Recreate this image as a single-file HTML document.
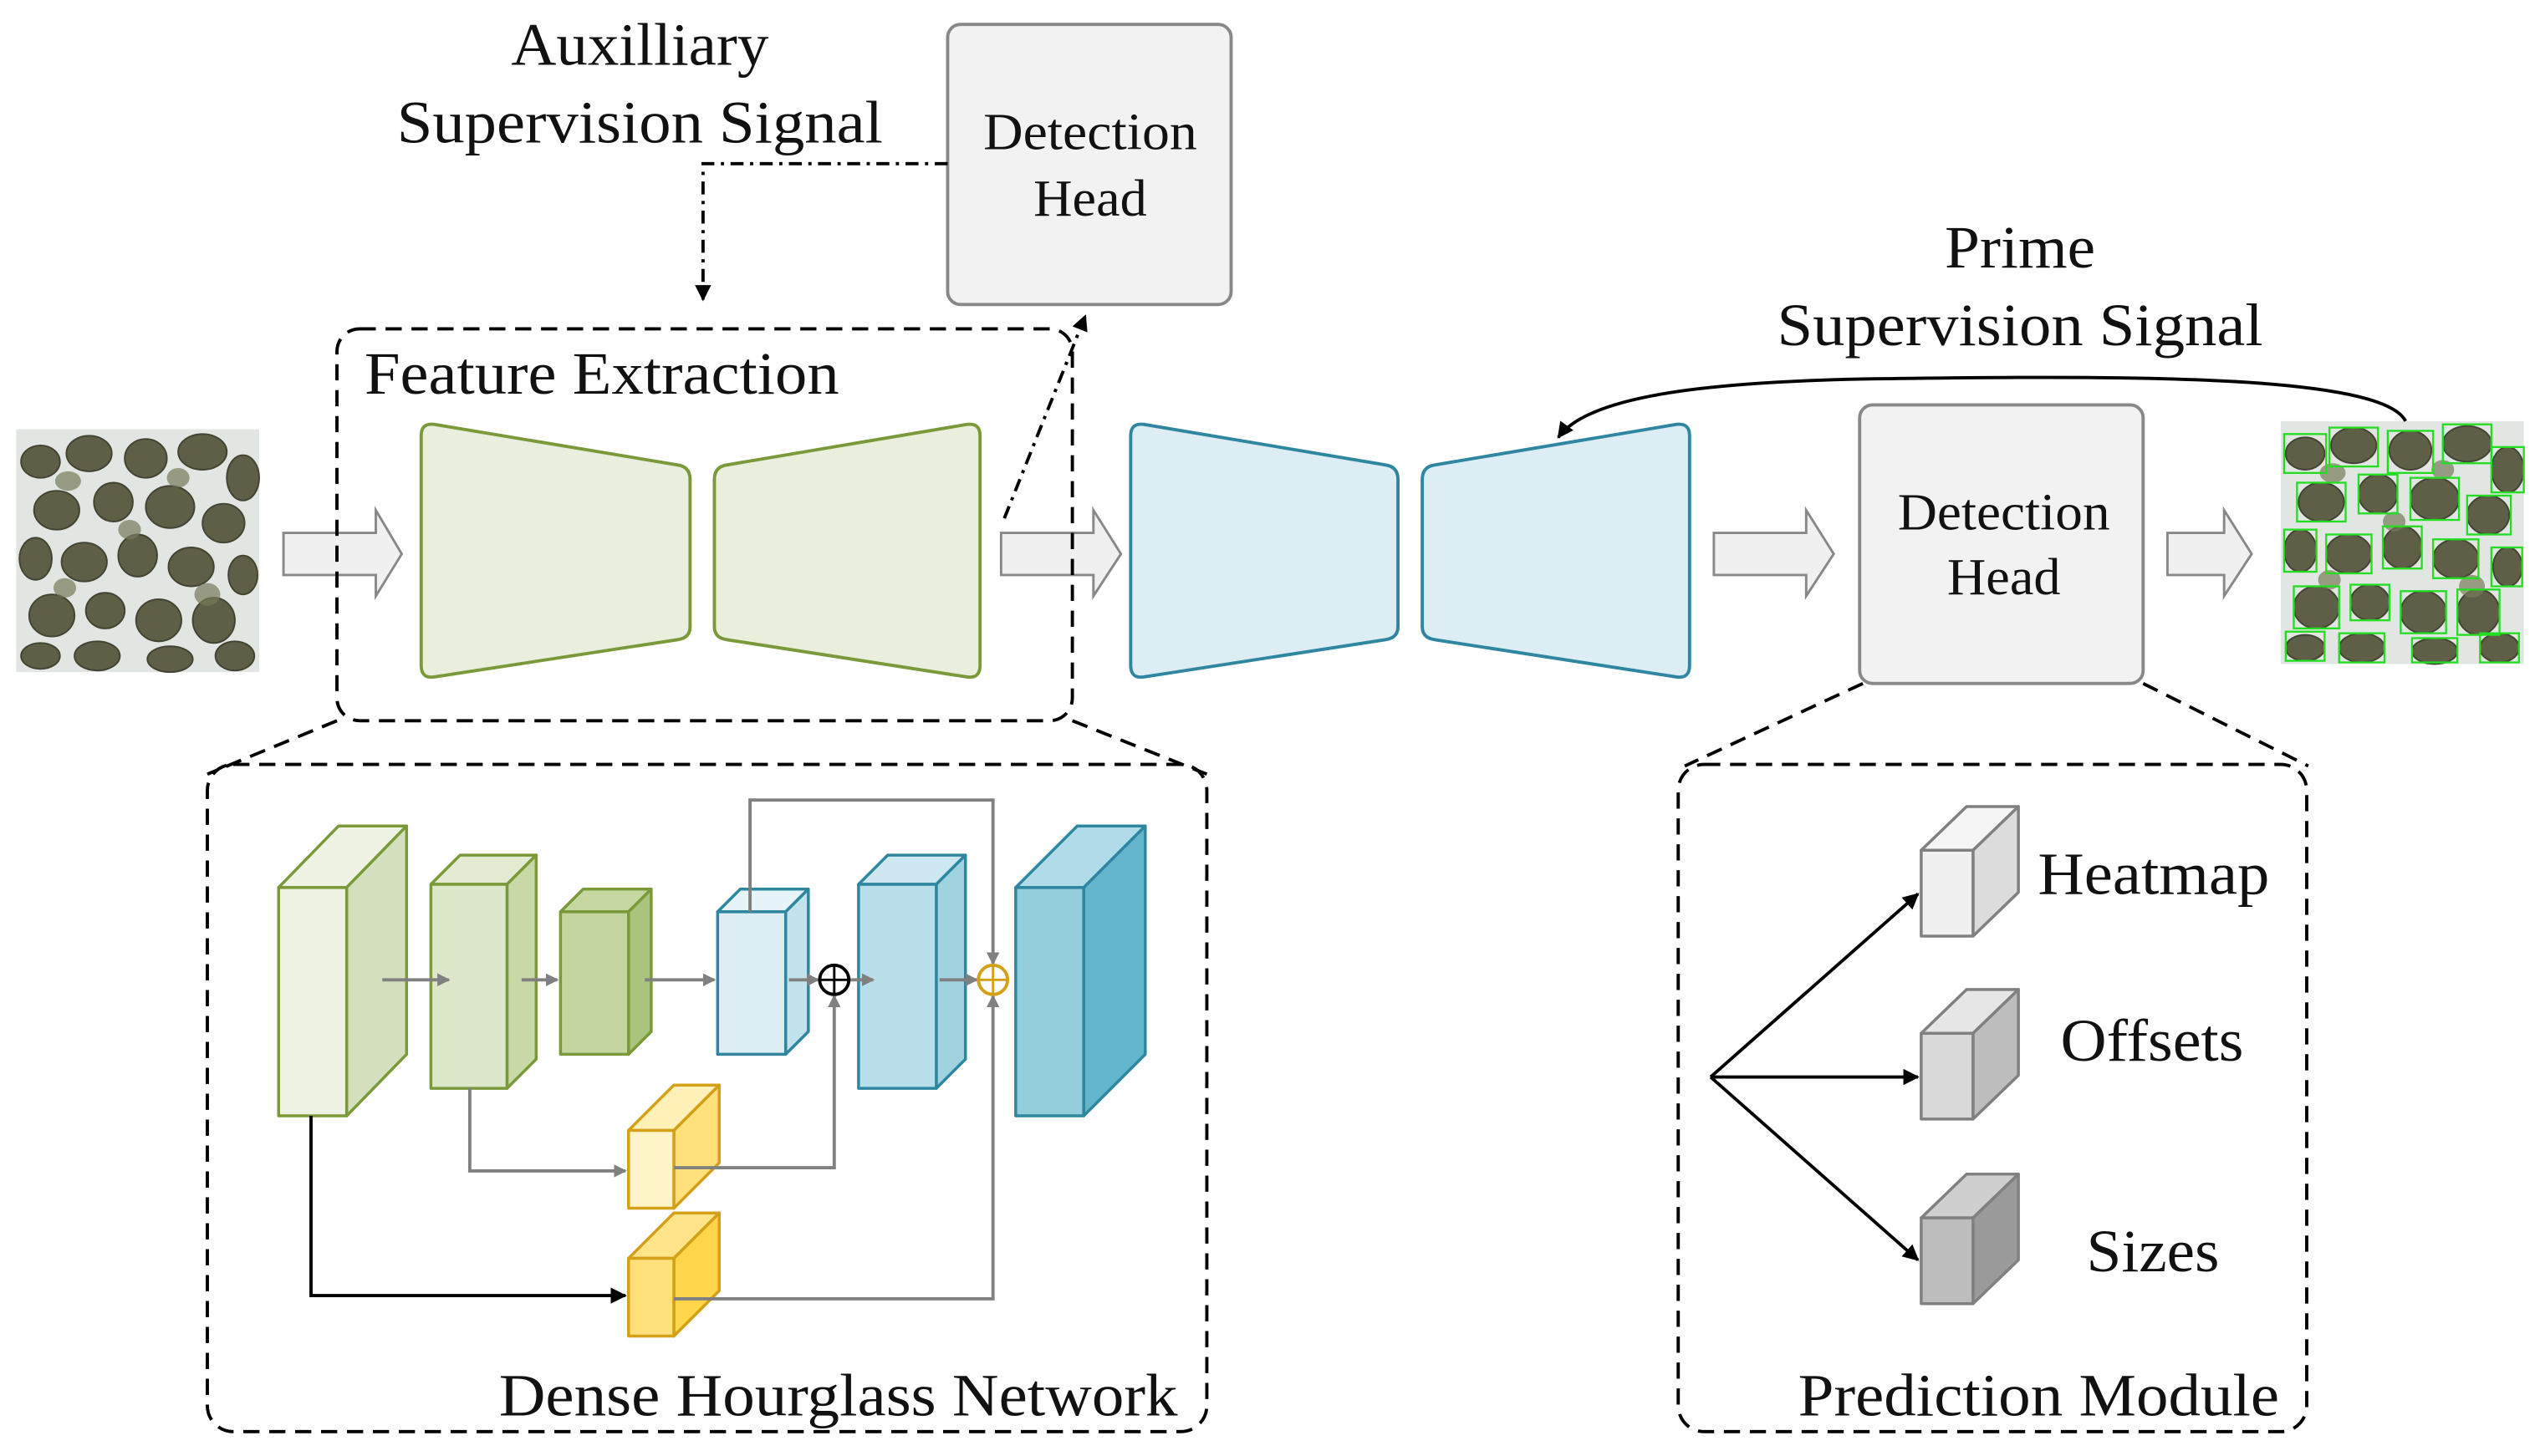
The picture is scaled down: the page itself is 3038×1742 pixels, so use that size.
<!DOCTYPE html>
<html><head><meta charset="utf-8"><style>
html,body{margin:0;padding:0;background:#fff;}
svg{display:block;}
text{font-family:"Liberation Serif",serif;fill:#111;}
</style></head><body>
<svg width="3038" height="1742" viewBox="0 0 1568 899" xmlns="http://www.w3.org/2000/svg">
<defs>
<marker id="ag" markerWidth="8" markerHeight="8" refX="7" refY="4" orient="auto" markerUnits="userSpaceOnUse"><path d="M0,0 L8,4 L0,8 z" fill="#808080"/></marker>
<marker id="ak" markerWidth="10" markerHeight="10" refX="9" refY="5" orient="auto" markerUnits="userSpaceOnUse"><path d="M0,0 L10,5 L0,10 z" fill="#000"/></marker>
<g id="rocks">
<rect x="0" y="0" width="150" height="150" fill="#e2e6e2"/>
<g fill="#5e5f46" stroke="#424332" stroke-width="1">
<ellipse cx="15" cy="20" rx="12" ry="10"/><ellipse cx="45" cy="15" rx="14" ry="11"/><ellipse cx="80" cy="18" rx="13" ry="12"/><ellipse cx="115" cy="14" rx="15" ry="11"/><ellipse cx="140" cy="30" rx="10" ry="14"/>
<ellipse cx="25" cy="50" rx="14" ry="12"/><ellipse cx="60" cy="45" rx="12" ry="12"/><ellipse cx="95" cy="48" rx="15" ry="13"/><ellipse cx="128" cy="58" rx="13" ry="12"/>
<ellipse cx="12" cy="80" rx="10" ry="13"/><ellipse cx="42" cy="82" rx="14" ry="12"/><ellipse cx="75" cy="78" rx="12" ry="13"/><ellipse cx="108" cy="85" rx="14" ry="12"/><ellipse cx="140" cy="90" rx="9" ry="12"/>
<ellipse cx="22" cy="115" rx="14" ry="13"/><ellipse cx="55" cy="112" rx="12" ry="11"/><ellipse cx="88" cy="118" rx="14" ry="13"/><ellipse cx="122" cy="118" rx="13" ry="14"/>
<ellipse cx="15" cy="140" rx="12" ry="8"/><ellipse cx="50" cy="140" rx="14" ry="9"/><ellipse cx="95" cy="142" rx="14" ry="8"/><ellipse cx="135" cy="140" rx="12" ry="9"/>
</g>
<g fill="#787a5a" opacity="0.7">
<ellipse cx="32" cy="32" rx="8" ry="6"/><ellipse cx="70" cy="62" rx="7" ry="6"/><ellipse cx="118" cy="102" rx="8" ry="7"/><ellipse cx="30" cy="98" rx="7" ry="6"/><ellipse cx="100" cy="30" rx="7" ry="6"/>
</g></g>
</defs>

<use href="#rocks" x="10" y="265"/>
<g transform="translate(1408,260)">
<use href="#rocks" x="0" y="0"/>
<g fill="none" stroke="#22dd22" stroke-width="1.2">
<rect x="2" y="8" width="26" height="24"/><rect x="30" y="4" width="30" height="24"/><rect x="66" y="6" width="28" height="26"/><rect x="100" y="2" width="30" height="24"/><rect x="130" y="16" width="20" height="28"/>
<rect x="10" y="38" width="30" height="24"/><rect x="48" y="33" width="24" height="24"/><rect x="80" y="35" width="30" height="26"/><rect x="115" y="46" width="27" height="24"/>
<rect x="2" y="67" width="20" height="26"/><rect x="28" y="70" width="28" height="24"/><rect x="63" y="65" width="24" height="26"/><rect x="94" y="73" width="28" height="24"/><rect x="130" y="78" width="19" height="24"/>
<rect x="8" y="102" width="28" height="26"/><rect x="43" y="101" width="24" height="22"/><rect x="74" y="105" width="28" height="26"/><rect x="109" y="104" width="26" height="28"/>
<rect x="3" y="130" width="24" height="18"/><rect x="36" y="131" width="28" height="18"/><rect x="81" y="134" width="28" height="15"/><rect x="123" y="131" width="24" height="18"/>
</g></g>

<g fill="#f0f0f0" stroke="#888" stroke-width="1.5">
<path d="M175,329 H232 V315 L248,342 L232,368 V355 H175 Z"/>
<path d="M618,329 H675 V315 L692,342 L675,368 V355 H618 Z"/>
<path d="M1058,329 H1115 V315 L1132,342 L1115,368 V355 H1058 Z"/>
<path d="M1338,329 H1373 V315 L1390,342 L1373,368 V355 H1338 Z"/>
</g>

<g stroke-width="2" stroke-linejoin="round">
<path d="M268,262 L418,287 Q426,288 426,296 L426,387 Q426,394 418,395 L268,418 Q260,419 260,411 L260,269 Q260,261 268,262 Z" fill="#e9efdc" stroke="#7a9a3a"/>
<path d="M449,287 L597,262 Q605,261 605,269 L605,411 Q605,419 597,418 L449,395 Q441,394 441,387 L441,296 Q441,288 449,287 Z" fill="#e9efdc" stroke="#7a9a3a"/>
<path d="M706,262 L855,287 Q863,288 863,296 L863,387 Q863,394 855,395 L706,418 Q698,419 698,411 L698,269 Q698,261 706,262 Z" fill="#dceef4" stroke="#2e86a0"/>
<path d="M886,287 L1035,262 Q1043,261 1043,269 L1043,411 Q1043,419 1035,418 L886,395 Q878,394 878,387 L878,296 Q878,288 886,287 Z" fill="#dceef4" stroke="#2e86a0"/>
</g>

<rect x="585" y="15" width="175" height="173" rx="8" fill="#f2f2f2" stroke="#888" stroke-width="2"/>
<text x="673" y="92" font-size="32" text-anchor="middle" textLength="132" lengthAdjust="spacingAndGlyphs">Detection</text>
<text x="673" y="133" font-size="32" text-anchor="middle" textLength="70" lengthAdjust="spacingAndGlyphs">Head</text>
<rect x="1148" y="250" width="175" height="172" rx="8" fill="#f2f2f2" stroke="#888" stroke-width="2"/>
<text x="1237" y="327" font-size="32" text-anchor="middle" textLength="131" lengthAdjust="spacingAndGlyphs">Detection</text>
<text x="1237" y="367" font-size="32" text-anchor="middle" textLength="70" lengthAdjust="spacingAndGlyphs">Head</text>

<text x="395" y="40" font-size="37" text-anchor="middle" textLength="159" lengthAdjust="spacingAndGlyphs">Auxilliary</text>
<text x="395" y="88" font-size="37" text-anchor="middle" textLength="300" lengthAdjust="spacingAndGlyphs">Supervision Signal</text>
<text x="1247" y="165" font-size="37" text-anchor="middle" textLength="93" lengthAdjust="spacingAndGlyphs">Prime</text>
<text x="1247" y="213" font-size="37" text-anchor="middle" textLength="300" lengthAdjust="spacingAndGlyphs">Supervision Signal</text>

<g fill="none" stroke="#000" stroke-width="2" stroke-dasharray="8,4,2,4">
<path d="M585,101 H434 V185" marker-end="url(#ak)"/>
<path d="M620,320 L670,195" marker-end="url(#ak)"/>
</g>
<path d="M1485,260 C1470,230 1300,232 1150,234 C1050,236 980,245 962,270" fill="none" stroke="#000" stroke-width="2" marker-end="url(#ak)"/>

<g fill="none" stroke="#000" stroke-width="2" stroke-dasharray="10,6">
<rect x="208" y="203" width="454" height="242" rx="14"/>
<path d="M208,445 L128,478 M662,445 L745,478"/>
<rect x="128" y="472" width="617" height="412" rx="16"/>
<path d="M1150,422 L1040,473 M1323,422 L1425,473"/>
<rect x="1036" y="472" width="388" height="412" rx="16"/>
</g>
<text x="225" y="243" font-size="37" textLength="293" lengthAdjust="spacingAndGlyphs">Feature Extraction</text>
<text x="308" y="874" font-size="37" textLength="419" lengthAdjust="spacingAndGlyphs">Dense Hourglass Network</text>
<text x="1110" y="874" font-size="37" textLength="297" lengthAdjust="spacingAndGlyphs">Prediction Module</text>

<g stroke-width="1.8" stroke-linejoin="round">
<g stroke="#7a9a3a">
<path d="M172,548 L209,510 L251,510 L214,548 Z" fill="#eef3e4"/><path d="M214,548 L251,510 L251,651 L214,689 Z" fill="#d4e0bd"/><rect x="172" y="548" width="42" height="141" fill="#eef3e4"/>
<path d="M266,546 L284,528 L331,528 L313,546 Z" fill="#e3ebd2"/><path d="M313,546 L331,528 L331,654 L313,672 Z" fill="#c8d9a8"/><rect x="266" y="546" width="47" height="126" fill="#dde8c8"/>
<path d="M346,563 L360,549 L402,549 L388,563 Z" fill="#c5d8a2"/><path d="M388,563 L402,549 L402,637 L388,651 Z" fill="#a9c47d"/><rect x="346" y="563" width="42" height="88" fill="#c3d6a0"/>
</g>
<g stroke="#2e86a0">
<path d="M443,563 L457,549 L499,549 L485,563 Z" fill="#e6f3f7"/><path d="M485,563 L499,549 L499,637 L485,651 Z" fill="#c3e3ec"/><rect x="443" y="563" width="42" height="88" fill="#dceef4"/>
<path d="M530,546 L548,528 L596,528 L578,546 Z" fill="#cde8f0"/><path d="M578,546 L596,528 L596,654 L578,672 Z" fill="#a0d2e0"/><rect x="530" y="546" width="48" height="126" fill="#b8dfe9"/>
<path d="M627,548 L665,510 L707,510 L669,548 Z" fill="#b0dce7"/><path d="M669,548 L707,510 L707,651 L669,689 Z" fill="#63b5cc"/><rect x="627" y="548" width="42" height="141" fill="#94cedc"/>
</g>
<g stroke="#d4a017">
<path d="M388,698 L416,670 L444,670 L416,698 Z" fill="#fff0b8"/><path d="M416,698 L444,670 L444,718 L416,746 Z" fill="#ffe07a"/><rect x="388" y="698" width="28" height="48" fill="#fff3c8"/>
<path d="M388,777 L416,749 L444,749 L416,777 Z" fill="#ffe48a"/><path d="M416,777 L444,749 L444,797 L416,825 Z" fill="#ffd54a"/><rect x="388" y="777" width="28" height="48" fill="#ffe07a"/>
</g>
</g>

<g fill="none" stroke="#808080" stroke-width="2">
<path d="M236,605 H277" marker-end="url(#ag)"/>
<path d="M322,605 H344" marker-end="url(#ag)"/>
<path d="M398,605 H441" marker-end="url(#ag)"/>
<path d="M487,605 H505" marker-end="url(#ag)"/>
<path d="M524,605 H539" marker-end="url(#ag)"/>
<path d="M580,605 H603" marker-end="url(#ag)"/>
<path d="M463,563 V494 H613 V595" marker-end="url(#ag)"/>
<path d="M290,672 V723 H386" marker-end="url(#ag)"/>
<path d="M416,721 H515 V615" marker-end="url(#ag)"/>
<path d="M416,802 H613 V615" marker-end="url(#ag)"/>
</g>
<path d="M192,689 V800 H386" fill="none" stroke="#000" stroke-width="2" marker-end="url(#ak)"/>
<circle cx="515" cy="605" r="9" fill="#fff" stroke="#000" stroke-width="2"/>
<path d="M506,605 H524 M515,596 V614" stroke="#000" stroke-width="1.5"/>
<circle cx="613" cy="605" r="9" fill="#fff" stroke="#d4a017" stroke-width="2"/>
<path d="M604,605 H622 M613,596 V614" stroke="#d4a017" stroke-width="1.5"/>

<g stroke="#808080" stroke-width="1.8" stroke-linejoin="round">
<path d="M1186,525 L1214,498 L1246,498 L1218,525 Z" fill="#f5f5f5"/><path d="M1218,525 L1246,498 L1246,551 L1218,578 Z" fill="#dcdcdc"/><rect x="1186" y="525" width="32" height="53" fill="#f0f0f0"/>
<path d="M1186,638 L1214,611 L1246,611 L1218,638 Z" fill="#e6e6e6"/><path d="M1218,638 L1246,611 L1246,664 L1218,691 Z" fill="#bdbdbd"/><rect x="1186" y="638" width="32" height="53" fill="#d9d9d9"/>
<path d="M1186,752 L1214,725 L1246,725 L1218,752 Z" fill="#cfcfcf"/><path d="M1218,752 L1246,725 L1246,778 L1218,805 Z" fill="#9a9a9a"/><rect x="1186" y="752" width="32" height="53" fill="#bdbdbd"/>
</g>
<g fill="none" stroke="#000" stroke-width="2">
<path d="M1056,665 L1184,552" marker-end="url(#ak)"/>
<path d="M1056,665 H1184" marker-end="url(#ak)"/>
<path d="M1056,665 L1184,778" marker-end="url(#ak)"/>
</g>
<text x="1258" y="552" font-size="37" textLength="143" lengthAdjust="spacingAndGlyphs">Heatmap</text>
<text x="1272" y="655" font-size="37" textLength="113" lengthAdjust="spacingAndGlyphs">Offsets</text>
<text x="1288" y="785" font-size="37" textLength="82" lengthAdjust="spacingAndGlyphs">Sizes</text>
</svg>
</body></html>
